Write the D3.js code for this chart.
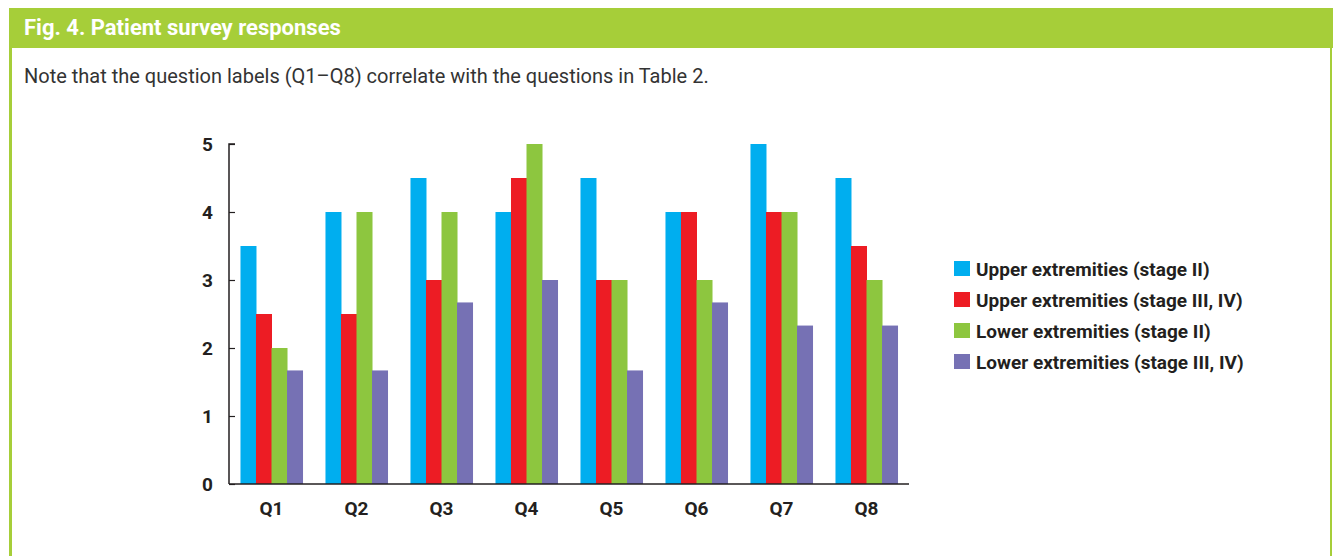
<!DOCTYPE html>
<html>
<head>
<meta charset="utf-8">
<script src="https://cdn.jsdelivr.net/npm/d3@7"></script>
<style>
  body { margin: 0; background: #fff; }
  svg { display: block; }
</style>
</head>
<body>
<svg></svg>
<script>
var questions = ['Q1', 'Q2', 'Q3', 'Q4', 'Q5', 'Q6', 'Q7', 'Q8'];
var seriesNames = [
    'Upper extremities (stage II)',
    'Upper extremities (stage III, IV)',
    'Lower extremities (stage II)',
    'Lower extremities (stage III, IV)'
];
var upperII = [3.5, 4, 4.5, 4, 4.5, 4, 5, 4.5];
var upperIII = [2.5, 2.5, 3, 4.5, 3, 4, 4, 3.5];
var lowerII = [2, 4, 4, 5, 3, 3, 4, 3];
var lowerIII = [1.67, 1.67, 2.67, 3, 1.67, 2.67, 2.33, 2.33];
var yTicks = [0, 1, 2, 3, 4, 5];

var colors = ['#00aeef', '#ed1c24', '#8dc63f', '#7671b4'];
var seriesValues = [upperII, upperIII, lowerII, lowerIII];

var svgWidth = 1335, svgHeight = 556;
var green = '#a6ce39';
var font = '"Liberation Sans Narrow", "Roboto", sans-serif';
var textColor = '#231f20';

var svg = d3.select('svg')
    .attr('width', svgWidth)
    .attr('height', svgHeight);

// frame
svg.append('rect')
    .attr('x', 9).attr('y', 8)
    .attr('width', 1324).attr('height', 40)
    .attr('fill', green);
svg.append('rect')
    .attr('x', 9).attr('y', 48)
    .attr('width', 3).attr('height', svgHeight - 48)
    .attr('fill', green);
svg.append('rect')
    .attr('x', 1330).attr('y', 48)
    .attr('width', 2).attr('height', svgHeight - 48)
    .attr('fill', green);

svg.append('text')
    .attr('x', 24)
    .attr('y', 35)
    .attr('fill', 'white')
    .attr('font-family', font)
    .attr('font-weight', 'bold')
    .attr('font-size', '22px')
    .text('Fig. 4. Patient survey responses');

svg.append('text')
    .attr('x', 24)
    .attr('y', 83)
    .attr('fill', '#333')
    .attr('font-family', font)
    .attr('font-size', '20px')
    .text('Note that the question labels (Q1\u2013Q8) correlate with the questions in Table 2.');

// chart
var x0 = d3.scaleBand()
    .domain(questions)
    .range([229, 909])
    .paddingInner(0.27)
    .paddingOuter(0.135);

var x1 = d3.scaleBand()
    .domain(d3.range(seriesNames.length))
    .range([0, x0.bandwidth()]);

var y = d3.scaleLinear()
    .domain([0, 5])
    .range([484, 144]);

var groups = svg.selectAll('g.group')
    .data(questions)
    .enter()
    .append('g')
    .attr('class', 'group')
    .attr('transform', function(d) {
        return 'translate(' + x0(d) + ',0)';
    });

groups.selectAll('rect')
    .data(function(d, i) {
        return seriesValues.map(function(vals, s) {
            return {s: s, v: vals[i]};
        });
    })
    .enter()
    .append('rect')
    .attr('x', function(d) { return x1(d.s); })
    .attr('width', x1.bandwidth() + 0.5)
    .attr('y', function(d) { return y(d.v); })
    .attr('height', function(d) { return y(0) - y(d.v); })
    .attr('fill', function(d) { return colors[d.s]; });

// y axis
var yAxis = svg.append('g')
    .attr('transform', 'translate(229,0)')
    .call(d3.axisRight(y).tickValues(yTicks).tickSize(6).tickFormat(d3.format('d')));
yAxis.select('.domain').attr('d', 'M6,144H0V484').attr('stroke', textColor).attr('stroke-width', 1.5);
yAxis.selectAll('.tick line').attr('stroke', textColor).attr('stroke-width', 1.2);
yAxis.selectAll('.tick text')
    .attr('x', -16)
    .attr('text-anchor', 'end')
    .attr('fill', textColor)
    .attr('font-family', font)
    .attr('font-weight', 'bold')
    .attr('font-size', '19px');

// x axis
var xAxis = svg.append('g')
    .attr('transform', 'translate(0,484)')
    .call(d3.axisBottom(x0).tickSize(0).tickPadding(0));
xAxis.select('.domain').attr('d', 'M229,0H909').attr('stroke', textColor).attr('stroke-width', 1.5);
xAxis.selectAll('.tick text')
    .attr('y', 31)
    .attr('dy', 0)
    .attr('fill', textColor)
    .attr('font-family', font)
    .attr('font-weight', 'bold')
    .attr('font-size', '19px');

// legend
var legend = svg.selectAll('g.legend')
    .data(seriesNames)
    .enter()
    .append('g')
    .attr('class', 'legend')
    .attr('transform', function(d, i) {
        return 'translate(954,' + (261 + i * 31) + ')';
    });

legend.append('rect')
    .attr('width', 16)
    .attr('height', 15)
    .attr('fill', function(d, i) { return colors[i]; });

legend.append('text')
    .attr('x', 22)
    .attr('y', 15)
    .attr('fill', textColor)
    .attr('font-family', font)
    .attr('font-weight', 'bold')
    .attr('font-size', '19px')
    .text(function(d) { return d; });
</script>
</body>
</html>
